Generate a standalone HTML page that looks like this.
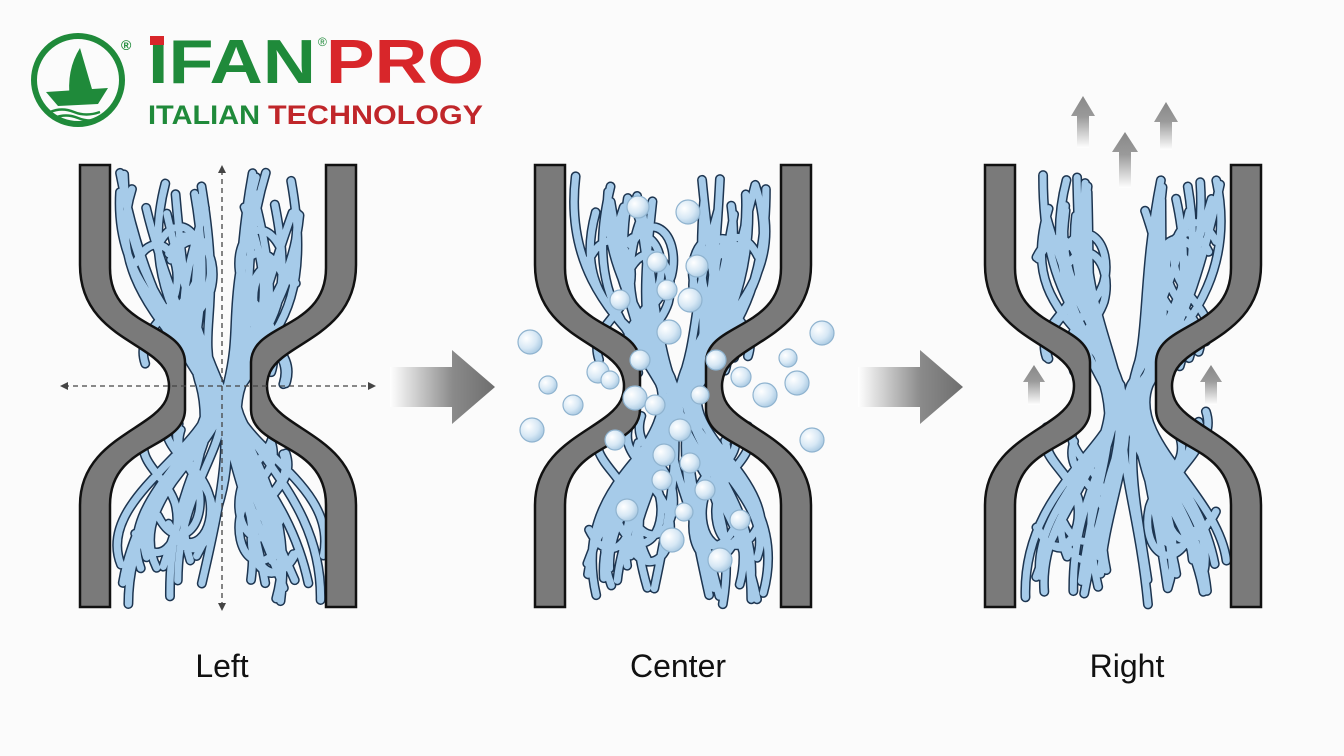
<!DOCTYPE html>
<html><head><meta charset="utf-8"><style>
html,body{margin:0;padding:0;background:#fbfbfb;}
svg{display:block}
</style></head><body>
<svg id="s" width="1344" height="756" viewBox="0 0 1344 756" xmlns="http://www.w3.org/2000/svg">
<defs>
<linearGradient id="ga" x1="0" x2="1" y1="0" y2="0"><stop offset="0" stop-color="#fff"/><stop offset="0.6" stop-color="#8a8a8a"/><stop offset="1" stop-color="#6e6e6e"/></linearGradient>
<linearGradient id="gu" x1="0" x2="0" y1="1" y2="0"><stop offset="0" stop-color="#fff"/><stop offset="0.6" stop-color="#9a9a9a"/><stop offset="1" stop-color="#888"/></linearGradient>
<radialGradient id="gb" cx="0.35" cy="0.35" r="0.7"><stop offset="0" stop-color="#ffffff"/><stop offset="0.6" stop-color="#d7e8f5"/><stop offset="1" stop-color="#a9c9e2"/></radialGradient>
</defs>
<rect width="1344" height="756" fill="#fbfbfb"/>
<!-- logo -->
<circle cx="78" cy="80" r="44" fill="none" stroke="#1f8a3a" stroke-width="6"/>
<path d="M80,48 Q66,70 70,100 L94,96 Z" fill="#1f8a3a"/>
<path d="M46,92 L108,88 L98,104 L58,106 Z" fill="#1f8a3a"/>
<path d="M50,112 Q62,107 74,112 T100,112 M54,118 Q66,113 78,118 T102,118" stroke="#1f8a3a" stroke-width="2.5" fill="none"/>
<text x="121" y="50" font-family="Liberation Sans" font-size="14" fill="#1f8a3a" font-weight="bold">®</text>
<text x="148" y="83" font-family="Liberation Sans, sans-serif" font-weight="bold" font-size="62" fill="#1f8a3a" textLength="168" lengthAdjust="spacingAndGlyphs">IFAN</text>
<rect x="150" y="36" width="14" height="9" fill="#d8262a"/>
<text x="318" y="46" font-family="Liberation Sans" font-size="12" fill="#1f8a3a">®</text>
<text x="326" y="83" font-family="Liberation Sans, sans-serif" font-weight="bold" font-size="62" fill="#d8262a" textLength="158" lengthAdjust="spacingAndGlyphs">PRO</text>
<text x="148" y="124" font-family="Liberation Sans, sans-serif" font-weight="bold" font-size="27" fill="#1f8a3a" textLength="112" lengthAdjust="spacingAndGlyphs">ITALIAN</text>
<text x="268" y="124" font-family="Liberation Sans, sans-serif" font-weight="bold" font-size="27" fill="#c0262a" textLength="215" lengthAdjust="spacingAndGlyphs">TECHNOLOGY</text>
<g id="panels"></g>
<path d="M390,367 L452,367 L452,350 L495,387 L452,424 L452,407 L390,407 Z" fill="url(#ga)"/>
<path d="M858,367 L920,367 L920,350 L963,387 L920,424 L920,407 L858,407 Z" fill="url(#ga)"/>
<g fill="url(#gu)">
<path d="M1077,148 L1077,116 L1071,116 L1083,96 L1095,116 L1089,116 L1089,148 Z"/>
<path d="M1119,188 L1119,152 L1112,152 L1125,132 L1138,152 L1131,152 L1131,188 Z"/>
<path d="M1160,150 L1160,122 L1154,122 L1166,102 L1178,122 L1172,122 L1172,150 Z"/>
<path d="M1028,405 L1028,382 L1023,382 L1034,365 L1045,382 L1040,382 L1040,405 Z"/>
<path d="M1205,405 L1205,382 L1200,382 L1211,365 L1222,382 L1217,382 L1217,405 Z"/>
</g>
<g stroke="#444" stroke-width="1.3" stroke-dasharray="5,4" fill="none">
<line x1="64" y1="386" x2="372" y2="386"/>
<line x1="222" y1="170" x2="222" y2="606"/>
</g>
<path d="M60,386 L68,382 L68,390 Z M376,386 L368,382 L368,390 Z M222,165 L218,173 L226,173 Z M222,611 L218,603 L226,603 Z" fill="#444"/>
<g font-family="Liberation Sans, sans-serif" font-size="32" fill="#111" text-anchor="middle">
<text x="222" y="677">Left</text>
<text x="678" y="677">Center</text>
<text x="1127" y="677">Right</text>
</g>
<g id="bub"></g>
</svg>
<script>
(function(){
var NS="http://www.w3.org/2000/svg";
var seed=11;function r(){seed=(seed*16807)%2147483647;return seed/2147483647;}
var P=document.getElementById('panels');
var offs=[0,455,905];
var wallL="M80,165 L110,165 L110,268 C110,330 184,322 185,362 L185,410 C184,450 110,442 110,505 L110,607 L80,607 L80,505 C80,440 152,430 166,400 Q172,386 166,372 C152,342 80,335 80,265 Z";
offs.forEach(function(o){
  var g=document.createElementNS(NS,'g');g.setAttribute('transform','translate('+o+',0)');P.appendChild(g);
  var fib='';
  for(var side=0;side<2;side++){
    for(var i=0;i<12;i++){
      var x0=120+r()*85,y0=172+r()*45,x1=120+r()*85,y1=555+r()*50;
      var cx=198+r()*22;
      var pts=[x0,y0, x0+(r()-0.5)*70,270+r()*50, cx-10-r()*25,315+r()*30, cx,385, cx+8+r()*20,440, x1+(r()-0.5)*70,470+r()*40, x1,y1];
      if(side){for(var k=0;k<pts.length;k+=2)pts[k]=444-pts[k];}
      fib+='M'+pts[0]+','+pts[1]+' C'+pts[2]+','+pts[3]+' '+pts[4]+','+pts[5]+' '+pts[6]+','+pts[7]+' C'+pts[8]+','+pts[9]+' '+pts[10]+','+pts[11]+' '+pts[12]+','+pts[13]+' ';
    }
    for(var j=0;j<4;j++){
      var a=130+r()*50,b=235+r()*50,s=side?-1:1,ax=side?444-a:a;
      fib+='M'+ax+','+b+' c'+(20*s)+',-40 '+(50*s)+',-10 '+(40*s)+',30 c'+(-10*s)+',30 '+(-40*s)+',40 '+(-30*s)+',70 ';
      fib+='M'+ax+','+(b+270)+' c'+(20*s)+',40 '+(50*s)+',10 '+(40*s)+',-30 c'+(-10*s)+',-30 '+(-40*s)+',-40 '+(-30*s)+',-70 ';
    }
  }
  var p1=document.createElementNS(NS,'path');p1.setAttribute('d',fib);p1.setAttribute('fill','none');p1.setAttribute('stroke','#1d3550');p1.setAttribute('stroke-width','10');p1.setAttribute('stroke-linecap','round');g.appendChild(p1);
  var p2=document.createElementNS(NS,'path');p2.setAttribute('d',fib);p2.setAttribute('fill','none');p2.setAttribute('stroke','#a6cbe9');p2.setAttribute('stroke-width','7');p2.setAttribute('stroke-linecap','round');g.appendChild(p2);
  for(var k=0;k<2;k++){
    var wp=document.createElementNS(NS,'path');wp.setAttribute('d',wallL);wp.setAttribute('fill','#7a7a7a');wp.setAttribute('stroke','#111');wp.setAttribute('stroke-width','2.5');
    if(k==1)wp.setAttribute('transform','translate(436,0) scale(-1,1)');
    g.appendChild(wp);
  }
});
var B=document.getElementById('bub');
var bs=[[638,207,11],[688,212,12],[657,262,10],[697,266,11],[667,290,10],[690,300,12],[620,300,10],[669,332,12],[530,342,12],[822,333,12],[598,372,11],[640,360,10],[716,360,10],[788,358,9],[548,385,9],[573,405,10],[635,398,12],[741,377,10],[797,383,12],[532,430,12],[765,395,12],[812,440,12],[680,430,11],[664,455,11],[690,463,10],[615,440,10],[627,510,11],[662,480,10],[705,490,10],[684,512,9],[672,540,12],[720,560,12],[740,520,10],[610,380,9],[655,405,10],[700,395,9]];
bs.forEach(function(b){var c=document.createElementNS(NS,'circle');c.setAttribute('cx',b[0]);c.setAttribute('cy',b[1]);c.setAttribute('r',b[2]);c.setAttribute('fill','url(#gb)');c.setAttribute('stroke','#8fb3cf');c.setAttribute('stroke-width','1.2');B.appendChild(c);});
})();
</script>
</body></html>
